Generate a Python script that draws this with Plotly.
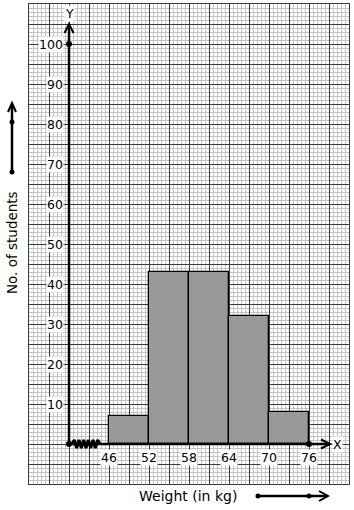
import plotly.graph_objects as go
import numpy as np

# ---- data ----
class_edges = [46, 52, 58, 64, 70, 76]
frequencies = [7, 43, 43, 32, 8]
y_tick_values = [10, 20, 30, 40, 50, 60, 70, 80, 90, 100]
x_tick_values = [46, 52, 58, 64, 70, 76]
x_title = "Weight (in kg)"
y_title = "No. of students"

# ---- layout constants ----
W, H = 354, 510
ML, MR, MT, MB = 29, 5, 4, 26
PW, PH = W - ML - MR, H - MT - MB
XR = [34, 82]
YR = [-10, 110]
AX0 = 40  # y-axis position (broken axis origin)
px_x = (XR[1] - XR[0]) / PW
px_y = (YR[1] - YR[0]) / PH
FONT = "DejaVu Sans"

mids = [(a + b) / 2 for a, b in zip(class_edges[:-1], class_edges[1:])]
widths = [b - a for a, b in zip(class_edges[:-1], class_edges[1:])]

fig = go.Figure()
fig.add_trace(go.Bar(
    x=mids, y=frequencies, width=widths,
    marker=dict(color="#999999", line=dict(color="black", width=1.3)),
    hoverinfo="x+y", showlegend=False,
))

# zigzag (kink) on x-axis
zx0, zx1 = AX0 + 3 * px_x, x_tick_values[0] - 9 * px_x
n = 13
zx = np.linspace(zx0, zx1, n)
zy = [0 if i in (0, n - 1) else (4 * px_y if i % 2 else -4 * px_y) for i in range(n)]
fig.add_trace(go.Scatter(x=zx, y=zy, mode="lines", line=dict(color="black", width=3),
                         hoverinfo="skip", showlegend=False))

shapes = []
# axes
x_tip = XR[0] + 301 * px_x
y_tip = 105
shapes.append(dict(type="line", xref="x", yref="y", x0=AX0, y0=0, x1=x_tip, y1=0,
                   line=dict(color="black", width=2.5)))
shapes.append(dict(type="line", xref="x", yref="y", x0=AX0, y0=0, x1=AX0, y1=y_tip,
                   line=dict(color="black", width=2.5)))
# arrowheads
shapes.append(dict(type="path", xref="x", yref="y",
                   path=f"M {x_tip - 9*px_x},{4.5*px_y} L {x_tip},0 L {x_tip - 9*px_x},{-4.5*px_y}",
                   line=dict(color="black", width=2)))
shapes.append(dict(type="path", xref="x", yref="y",
                   path=f"M {AX0 - 4.5*px_x},{y_tip - 9*px_y} L {AX0},{y_tip} L {AX0 + 4.5*px_x},{y_tip - 9*px_y}",
                   line=dict(color="black", width=2)))

# outside arrows in paper coords
def pxp(px):
    return (px - ML) / PW
def pyp(py):
    return (MT + PH - py) / PH

# left vertical arrow
lx = pxp(12)
shapes.append(dict(type="line", xref="paper", yref="paper", x0=lx, y0=pyp(172), x1=lx, y1=pyp(104),
                   line=dict(color="black", width=2.5)))
shapes.append(dict(type="path", xref="paper", yref="paper",
                   path=f"M {pxp(8)},{pyp(112)} L {lx},{pyp(103)} L {pxp(16)},{pyp(112)}",
                   line=dict(color="black", width=2)))
# bottom horizontal arrow
by = pyp(496)
shapes.append(dict(type="line", xref="paper", yref="paper", x0=pxp(258), y0=by, x1=pxp(327), y1=by,
                   line=dict(color="black", width=2.5)))
shapes.append(dict(type="path", xref="paper", yref="paper",
                   path=f"M {pxp(319)},{pyp(491)} L {pxp(328)},{by} L {pxp(319)},{pyp(501)}",
                   line=dict(color="black", width=2)))

# dots
fig.add_trace(go.Scatter(x=[AX0, AX0, x_tick_values[-1]], y=[0, y_tick_values[-1], 0], mode="markers",
                         marker=dict(color="black", size=6), hoverinfo="skip", showlegend=False))
for (dx, dy) in [(12, 122), (12, 172), (258, 496), (309, 496)]:
    shapes.append(dict(type="circle", xref="paper", yref="paper",
                       x0=pxp(dx - 2.5), x1=pxp(dx + 2.5), y0=pyp(dy + 2.5), y1=pyp(dy - 2.5),
                       fillcolor="black", line=dict(color="black", width=0)))

annotations = []
for v in y_tick_values:
    annotations.append(dict(x=AX0, y=v, xref="x", yref="y", text=str(v), showarrow=False,
                            xanchor="right", yanchor="middle", xshift=-5,
                            bgcolor="white", borderpad=0,
                            font=dict(family=FONT, size=12.5, color="black")))
for v in x_tick_values:
    annotations.append(dict(x=v, y=0, xref="x", yref="y", text=str(v), showarrow=False,
                            xanchor="center", yanchor="middle", yshift=-13,
                            bgcolor="white", borderpad=0,
                            font=dict(family=FONT, size=12.5, color="black")))
annotations.append(dict(x=x_tip, y=0, xref="x", yref="y", text="X", showarrow=False,
                        xanchor="left", yanchor="middle", xshift=2, bgcolor="white", borderpad=0,
                        font=dict(family=FONT, size=12.5, color="black")))
annotations.append(dict(x=AX0, y=y_tip, xref="x", yref="y", text="Y", showarrow=False,
                        xanchor="center", yanchor="bottom", yshift=2, bgcolor="white", borderpad=0,
                        font=dict(family=FONT, size=12.5, color="black")))
annotations.append(dict(x=pxp(188), y=pyp(496), xref="paper", yref="paper", text=x_title,
                        showarrow=False, xanchor="center", yanchor="middle",
                        font=dict(family=FONT, size=14, color="black")))
annotations.append(dict(x=pxp(12), y=pyp(243), xref="paper", yref="paper", text=y_title,
                        showarrow=False, xanchor="center", yanchor="middle", textangle=-90,
                        font=dict(family=FONT, size=13.5, color="black")))

fig.update_layout(
    width=W, height=H,
    margin=dict(l=ML, r=MR, t=MT, b=MB, pad=0),
    paper_bgcolor="white", plot_bgcolor="white",
    shapes=shapes, annotations=annotations,
    bargap=0,
    xaxis=dict(range=XR, tick0=XR[0], dtick=3, showgrid=True, gridcolor="#3a3a3a", gridwidth=1,
               showticklabels=False, ticks="", zeroline=False, fixedrange=True,
               showline=True, mirror=True, linecolor="#3a3a3a", linewidth=1,
               minor=dict(tick0=XR[0], dtick=0.6, showgrid=True, gridcolor="#c4c4c4", gridwidth=1)),
    yaxis=dict(range=YR, tick0=YR[0], dtick=5, showgrid=True, gridcolor="#3a3a3a", gridwidth=1,
               showticklabels=False, ticks="", zeroline=False, fixedrange=True,
               showline=True, mirror=True, linecolor="#3a3a3a", linewidth=1,
               minor=dict(tick0=YR[0], dtick=1, showgrid=True, gridcolor="#c4c4c4", gridwidth=1)),
)

fig.write_html("out.html")
